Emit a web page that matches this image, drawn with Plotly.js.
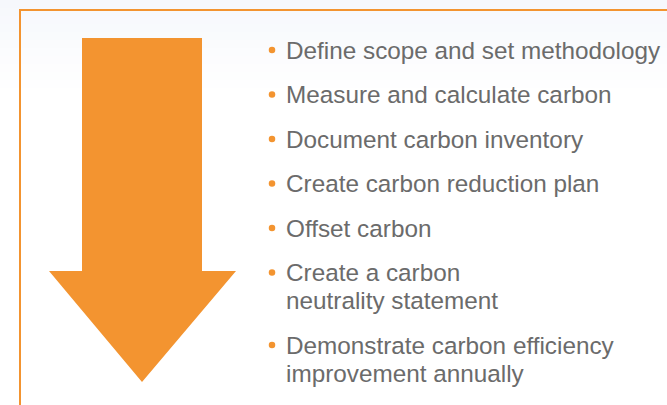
<!DOCTYPE html>
<html>
<head>
<meta charset="utf-8">
<script src="https://cdn.plot.ly/plotly-3.0.1.min.js"></script>
<style>html,body{margin:0;padding:0;background:#fff;}#chart{width:667px;height:405px;}</style>
</head>
<body>
<div id="chart"></div>
<script>
// Data
const steps = [
  "Define scope and set methodology",
  "Measure and calculate carbon",
  "Document carbon inventory",
  "Create carbon reduction plan",
  "Offset carbon",
  "Create a carbon<br>neutrality statement",
  "Demonstrate carbon efficiency<br>improvement annually"
];

const ORANGE = '#F39430';
const TEXT = '#6b6b6b';
const W = 667, H = 405;

const firstCenter = 50, lineH = 28, itemGap = 16.5;
const textX = 284, bulletX = 272;

const annotations = [];
const bx = [], by = [];
let yc = firstCenter;
steps.forEach(s => {
  const lines = s.split('<br>');
  lines.forEach((ln, j) => {
    annotations.push({
      x: textX, y: yc + j * lineH, xref: 'x', yref: 'y',
      xanchor: 'left', yanchor: 'middle', align: 'left',
      text: ln, showarrow: false,
      font: {family: '"Liberation Sans", Arial, sans-serif', size: 24.3, color: TEXT}
    });
  });
  bx.push(bulletX); by.push(yc);
  yc += lines.length * lineH + itemGap;
});

// background gradient bands
const shapes = [];
const bands = 12;
for (let i = 0; i < bands; i++) {
  const t = i / (bands - 1);
  const r = Math.round(246 + (255 - 246) * t);
  const g = Math.round(248 + (255 - 248) * t);
  const b = Math.round(252 + (255 - 252) * t);
  shapes.push({type: 'rect', xref: 'x', yref: 'y', layer: 'below',
    x0: 0, x1: W, y0: i * 8, y1: (i + 1) * 8 + 0.5,
    fillcolor: `rgb(${r},${g},${b})`, line: {width: 0}});
}
// frame
shapes.push({type: 'rect', xref: 'x', yref: 'y', x0: 20, y0: 10, x1: W + 20, y1: H + 20,
  line: {color: ORANGE, width: 2}, fillcolor: 'rgba(0,0,0,0)'});
// arrow
shapes.push({type: 'path', xref: 'x', yref: 'y',
  path: 'M82,38 L202,38 L202,271 L236,271 L142,382 L49,271 L82,271 Z',
  fillcolor: ORANGE, line: {width: 0}});

const traces = [{
  x: bx, y: by, mode: 'markers', type: 'scatter', hoverinfo: 'skip',
  marker: {color: ORANGE, size: 6.5}
}];

const layout = {
  width: W, height: H,
  margin: {l: 0, r: 0, t: 0, b: 0},
  paper_bgcolor: '#ffffff', plot_bgcolor: 'rgba(0,0,0,0)',
  showlegend: false,
  xaxis: {range: [0, W], visible: false, fixedrange: true},
  yaxis: {range: [H, 0], visible: false, fixedrange: true},
  shapes: shapes,
  annotations: annotations
};

Plotly.newPlot('chart', traces, layout, {displayModeBar: false, staticPlot: true});
</script>
</body>
</html>
